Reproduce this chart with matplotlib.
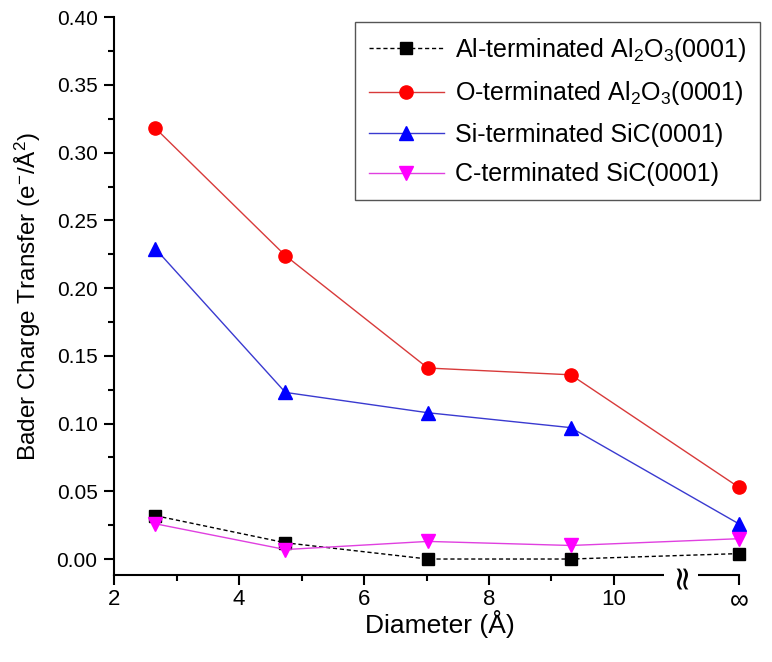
import numpy as np
import matplotlib
matplotlib.use('Agg')
import matplotlib.pyplot as plt
from matplotlib.ticker import MultipleLocator, FixedLocator

plt.rcParams['font.family'] = ['Liberation Sans', 'DejaVu Sans']
plt.rcParams['mathtext.fontset'] = 'custom'
plt.rcParams['mathtext.rm'] = 'Liberation Sans'
plt.rcParams['mathtext.it'] = 'Liberation Sans:italic'

# diameters (the last point stands for infinity, drawn at x = 12)
diameter = [2.66, 4.74, 7.02, 9.31, 12.0]
al_term = [0.032, 0.012, 0.000, 0.000, 0.004]
o_term = [0.318, 0.224, 0.141, 0.136, 0.053]
si_term = [0.229, 0.123, 0.108, 0.097, 0.026]
c_term = [0.026, 0.007, 0.013, 0.010, 0.015]

xticks = [2, 4, 6, 8, 10, 12]
xticklabels = ['2', '4', '6', '8', '10', '\u221e']

fig = plt.figure(figsize=(7.72, 6.62), dpi=100)
ax = fig.add_axes([0.148, 0.131, 0.843, 0.843])

ax.plot(diameter, al_term, ls=(0, (3, 2)), lw=1, color='black', marker='s', ms=8,
        label='Al-terminated Al$_2$O$_3$(0001)')
ax.plot(diameter, o_term, ls='-', lw=1, color='#d83a3a', marker='o', ms=9.5,
        mfc='red', mec='red', label='O-terminated Al$_2$O$_3$(0001)')
ax.plot(diameter, si_term, ls='-', lw=1, color='#3a3ad0', marker='^', ms=10,
        mfc='blue', mec='blue', label='Si-terminated SiC(0001)')
ax.plot(diameter, c_term, ls='-', lw=1, color='#e040e0', marker='v', ms=10,
        mfc='magenta', mec='magenta', label='C-terminated SiC(0001)')

ax.set_xlim(2, 12.42)
ax.set_ylim(-0.012, 0.40)
ax.spines['top'].set_visible(False)
ax.spines['right'].set_visible(False)
ax.spines['bottom'].set_bounds(2, 12)
ax.spines['left'].set_bounds(-0.012, 0.40)
for s in ['left', 'bottom']:
    ax.spines[s].set_linewidth(1.5)

ax.xaxis.set_major_locator(FixedLocator(xticks))
ax.set_xticklabels(xticklabels)
ax.xaxis.set_minor_locator(FixedLocator([3, 5, 7, 9]))
ax.yaxis.set_major_locator(MultipleLocator(0.05))
ax.yaxis.set_minor_locator(MultipleLocator(0.025))
ax.yaxis.set_major_formatter(matplotlib.ticker.FormatStrFormatter('%.2f'))
ax.tick_params(which='major', direction='out', length=7, width=1.5, pad=5)
ax.tick_params(axis='y', labelsize=15)
ax.tick_params(axis='x', labelsize=16, pad=3)
ax.tick_params(which='minor', direction='out', length=4, width=1.5)
ax.get_xticklabels()[-1].set_fontsize(19)

# axis break mark
ax.text(11.07, 0.0, '\u2248', transform=ax.get_xaxis_transform(), rotation=90,
        ha='center', va='center', fontsize=24, color='black',
        bbox=dict(facecolor='white', edgecolor='none', pad=0.3), clip_on=False,
        family=['DejaVu Sans'])

ax.set_xlabel('Diameter (\u00c5)', fontsize=19, labelpad=-2)
ax.set_ylabel('Bader Charge Transfer (e$^{-}$/\u00c5$^{2}$)', fontsize=17.5, labelpad=10)

leg = ax.legend(loc='upper right', bbox_to_anchor=(1.0, 1.0), fontsize=18,
                handlelength=3.0, handletextpad=0.45, labelspacing=0.62,
                borderpad=0.55, borderaxespad=0.2,
                fancybox=False, framealpha=1, edgecolor='#555555')
leg.get_frame().set_linewidth(1.0)

fig.savefig('out.png', dpi=100)
